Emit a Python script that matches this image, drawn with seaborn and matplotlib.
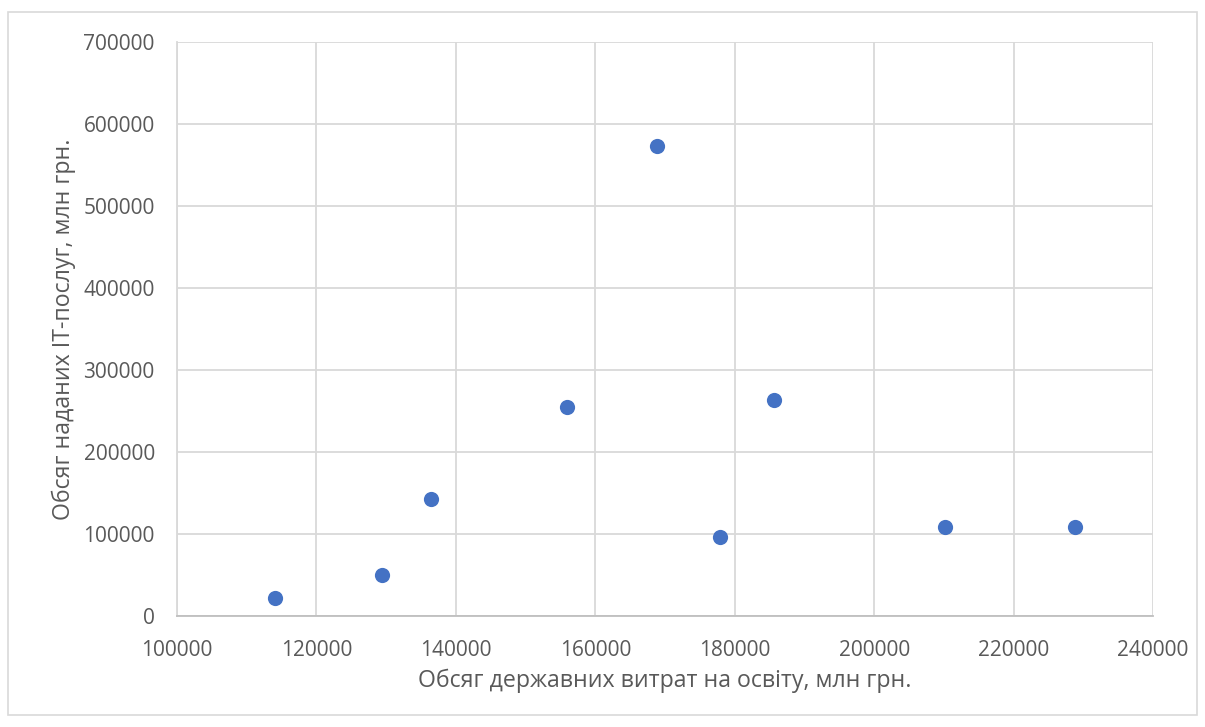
import matplotlib
matplotlib.use("Agg")
import matplotlib.pyplot as plt
import seaborn as sns
import pandas as pd
from matplotlib.patches import Rectangle

education_spending = [114100, 129400, 136400, 156000, 168900, 177900, 185600, 210100, 228800]
it_services = [21500, 50000, 142500, 254500, 573500, 96000, 263500, 109000, 108000]
x_ticks = [100000, 120000, 140000, 160000, 180000, 200000, 220000, 240000]
y_ticks = [0, 100000, 200000, 300000, 400000, 500000, 600000, 700000]
x_label = "Обсяг державних витрат на освіту, млн грн."
y_label = "Обсяг наданих IT-послуг, млн грн."

df = pd.DataFrame({"x": education_spending, "y": it_services})

sns.set_theme(style="white")
plt.rcParams["font.family"] = ["Open Sans", "DejaVu Sans"]

fig = plt.figure(figsize=(12.05, 7.27), dpi=100)
ax = fig.add_axes([177/1205, 1-616/727, (1153-177)/1205, (616-42)/727])

fig.patches.append(Rectangle((8/1205, 1-715/727), (1197-8)/1205, (715-12)/727,
                             transform=fig.transFigure, fill=False,
                             edgecolor="#D9D9D9", linewidth=1.2))

sns.scatterplot(data=df, x="x", y="y", ax=ax, color="#4472C4", s=120,
                edgecolor="#4472C4", linewidth=0, zorder=3)

ax.set_xlim(100000, 240000)
ax.set_ylim(0, 700000)
ax.set_xticks(x_ticks)
ax.set_yticks(y_ticks)
ax.set_xticklabels([str(v) for v in x_ticks])
ax.set_yticklabels([str(v) for v in y_ticks])
ax.grid(True, color="#D9D9D9", linewidth=1.3)
ax.set_axisbelow(True)
for s in ["top", "right"]:
    ax.spines[s].set_visible(False)
ax.spines["left"].set_color("#D9D9D9")
ax.spines["left"].set_linewidth(1.3)
ax.spines["bottom"].set_color("#BFBFBF")
ax.spines["bottom"].set_linewidth(1.3)
ax.tick_params(axis="both", length=0, labelsize=15, colors="#595959")
ax.tick_params(axis="x", pad=17)
ax.tick_params(axis="y", pad=16)

ax.set_xlabel(x_label, fontsize=16.7, color="#595959", labelpad=6)
ax.set_ylabel(y_label, fontsize=16.7, color="#595959", labelpad=5)

fig.savefig("out.png", dpi=100)
